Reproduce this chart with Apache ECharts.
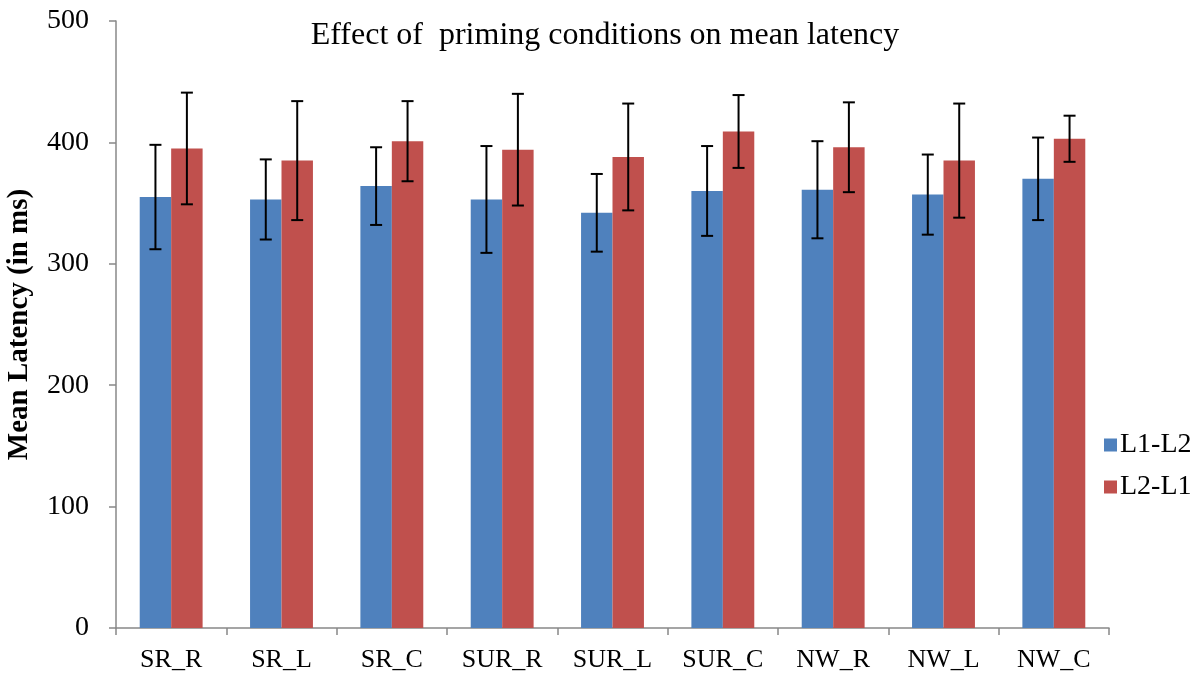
<!DOCTYPE html>
<html>
<head>
<meta charset="utf-8">
<script src="https://cdn.jsdelivr.net/npm/echarts@6/dist/echarts.min.js"></script>
<style>html,body{margin:0;padding:0;background:#fff}#c{width:1204px;height:674px}</style>
</head>
<body>
<div id="c"></div>
<script>
const categories = ['SR_R','SR_L','SR_C','SUR_R','SUR_L','SUR_C','NW_R','NW_L','NW_C'];
const l1l2Mean = [355, 353, 364, 353, 342, 360, 361, 357, 370];
const l1l2Err  = [43, 33, 32, 44, 32, 37, 40, 33, 34];
const l2l1Mean = [395, 385, 401, 394, 388, 409, 396, 385, 403];
const l2l1Err  = [46, 49, 33, 46, 44, 30, 37, 47, 19];
const yTicks = [0, 100, 200, 300, 400, 500];

const FONT = '"Liberation Serif", "Times New Roman", serif';
const GAP = 0.43;

function errData(mean, err) {
  return mean.map((m, i) => [i, m - err[i], m + err[i]]);
}
function errRender(side) {
  return function (params, api) {
    const idx = api.value(0);
    const lo = api.coord([idx, api.value(1)]);
    const hi = api.coord([idx, api.value(2)]);
    const band = api.size([1, 0])[0];
    const bw = band * (1 - GAP) / 2;
    const x = lo[0] + side * bw / 2;
    const cap = 6;
    const style = { stroke: '#000', lineWidth: 2 };
    return {
      type: 'group',
      children: [
        { type: 'line', shape: { x1: x, y1: hi[1], x2: x, y2: lo[1] }, style },
        { type: 'line', shape: { x1: x - cap, y1: hi[1], x2: x + cap, y2: hi[1] }, style },
        { type: 'line', shape: { x1: x - cap, y1: lo[1], x2: x + cap, y2: lo[1] }, style }
      ]
    };
  };
}

const chart = echarts.init(document.getElementById('c'), null, { renderer: 'canvas' });
chart.setOption({
  animation: false,
  backgroundColor: '#fff',
  title: {
    text: 'Effect of  priming conditions on mean latency',
    left: 600, top: 15, textAlign: 'center',
    textStyle: { fontFamily: FONT, fontSize: 32, fontWeight: 'normal', color: '#000' }
  },
  legend: {
    orient: 'vertical',
    left: 1099, top: 426,
    itemWidth: 13, itemHeight: 13, itemGap: 14,
    icon: 'rect',
    textStyle: { fontFamily: FONT, fontSize: 28, color: '#000', padding: [0, 0, 0, -2] },
    data: ['L1-L2', 'L2-L1']
  },
  grid: { left: 116, right: 95, top: 21, bottom: 46, containLabel: false, outerBoundsMode: 'none' },
  xAxis: {
    type: 'category',
    data: categories,
    axisLine: { lineStyle: { color: '#888', width: 1.5 } },
    axisTick: { show: true, length: 7, lineStyle: { color: '#888', width: 1.5 } },
    axisLabel: { fontFamily: FONT, fontSize: 26, color: '#000', margin: 19 }
  },
  yAxis: {
    type: 'value',
    min: 0, max: 500, interval: 100,
    name: 'Mean Latency (in ms)',
    nameLocation: 'middle',
    nameGap: 82,
    nameRotate: 90,
    nameTextStyle: { fontFamily: FONT, fontSize: 29, fontWeight: 'bold', color: '#000' },
    axisLine: { show: true, lineStyle: { color: '#888', width: 1.5 } },
    axisTick: { show: true, length: 7, lineStyle: { color: '#888', width: 1.5 } },
    splitLine: { show: false },
    axisLabel: {
      fontFamily: FONT, fontSize: 28, color: '#000', margin: 27,
      formatter: v => (yTicks.indexOf(v) >= 0 ? String(v) : '')
    }
  },
  series: [
    {
      name: 'L1-L2', type: 'bar', data: l1l2Mean,
      barGap: '0%', barCategoryGap: (GAP * 100) + '%',
      itemStyle: { color: '#4F81BD' }
    },
    {
      name: 'L2-L1', type: 'bar', data: l2l1Mean,
      barGap: '0%', barCategoryGap: (GAP * 100) + '%',
      itemStyle: { color: '#C0504D' }
    },
    {
      type: 'custom', name: 'errL1', data: errData(l1l2Mean, l1l2Err),
      renderItem: errRender(-1), encode: { x: 0, y: [1, 2] }, z: 10
    },
    {
      type: 'custom', name: 'errL2', data: errData(l2l1Mean, l2l1Err),
      renderItem: errRender(1), encode: { x: 0, y: [1, 2] }, z: 10
    }
  ]
});
</script>
</body>
</html>
